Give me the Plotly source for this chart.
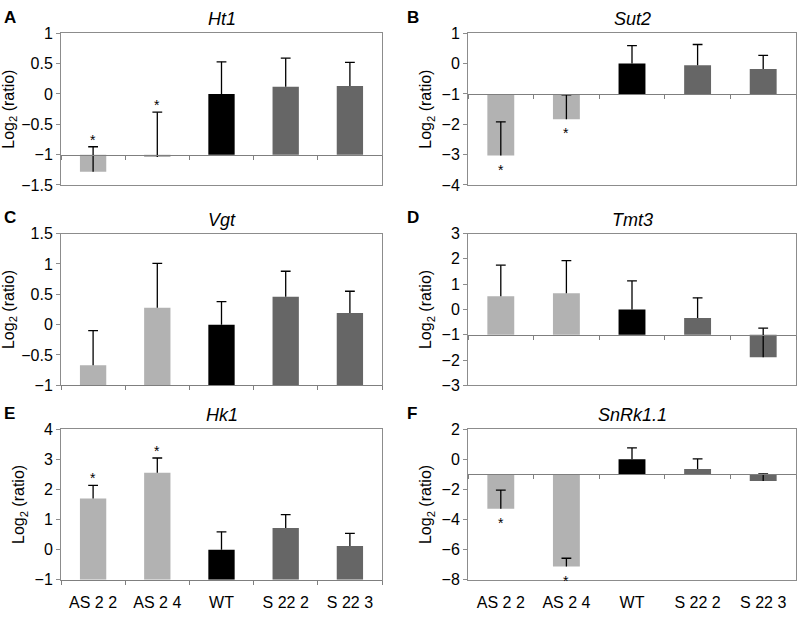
import plotly.graph_objects as go

W, H = 797, 617
FONT = "Arial, Liberation Sans, sans-serif"
FRAME = "#8c8c8c"
AXIS_LINE = "#7f7f7f"

GROUPS = ["AS 2 2", "AS 2 4", "WT", "S 22 2", "S 22 3"]
BAR_COLORS = ["#b2b2b2", "#b2b2b2", "#000000", "#666666", "#666666"]
BASE = -1  # bars grow from the -1 line (Excel axis crossing)

GENES = ["Ht1", "Sut2", "Vgt", "Tmt3", "Hk1", "SnRk1.1"]
LETTERS = ["A", "B", "C", "D", "E", "F"]

# log2 ratios
ht1_mean = [-1.28, -1.04, 0.0, 0.12, 0.13]
ht1_err = [0.41, 0.74, 0.53, 0.47, 0.39]
sut2_mean = [-3.03, -1.83, 0.0, -0.05, -0.18]
sut2_err = [1.11, 0.80, 0.59, 0.68, 0.45]
vgt_mean = [-0.67, 0.28, 0.0, 0.46, 0.19]
vgt_err = [0.57, 0.73, 0.38, 0.42, 0.36]
tmt3_mean = [0.52, 0.64, 0.0, -0.34, -1.89]
tmt3_err = [1.23, 1.29, 1.13, 0.80, 1.15]
hk1_mean = [1.70, 2.55, 0.0, 0.72, 0.12]
hk1_err = [0.43, 0.49, 0.59, 0.44, 0.42]
snrk_mean = [-3.28, -7.12, 0.0, -0.65, -1.45]
snrk_err = [1.23, 0.55, 0.75, 0.67, 0.48]

MEANS = [ht1_mean, sut2_mean, vgt_mean, tmt3_mean, hk1_mean, snrk_mean]
ERRS = [ht1_err, sut2_err, vgt_err, tmt3_err, hk1_err, snrk_err]

# significance stars: flag per group, and whether the star sits above the cap or below the bar
SIG = [
    [1, 1, 0, 0, 0],
    [1, 1, 0, 0, 0],
    [0, 0, 0, 0, 0],
    [0, 0, 0, 0, 0],
    [1, 1, 0, 0, 0],
    [1, 1, 0, 0, 0],
]
STAR_SIDE = ["above", "below", "above", "above", "above", "below"]

Y_RANGES = [(-1.5, 1), (-4, 1), (-1, 1.5), (-3, 3), (-1, 4), (-8, 2)]
Y_DTICKS = [0.5, 1, 0.5, 1, 1, 2]

# plot-area boxes in pixels (left, right) / (top, bottom)
COLS_PX = [(61, 382), (468, 796)]
ROWS_PX = [(26, 182), (232, 388), (433, 588)]


def px_x(p):
    return p / W


def px_y(p):
    return 1 - p / H


fig = go.Figure()
layout = {}
annotations = []

for i, gene in enumerate(GENES):
    r, c = divmod(i, 2)
    n = i + 1
    xs = "" if n == 1 else str(n)
    xl, xr = COLS_PX[c]
    yt, yb = ROWS_PX[r]
    xdom = [px_x(xl), px_x(xr)]
    ydom = [px_y(yb), px_y(yt)]
    ymin, ymax = Y_RANGES[i]
    mean, err = MEANS[i], ERRS[i]
    caps = [m + e for m, e in zip(mean, err)]

    fig.add_trace(
        go.Bar(
            x=GROUPS,
            y=[v - BASE for v in mean],
            base=BASE,
            width=0.41,
            marker=dict(color=BAR_COLORS, line=dict(width=0)),
            error_y=dict(
                type="data",
                symmetric=False,
                array=err,
                arrayminus=[0] * len(err),
                color="#000000",
                thickness=1.3,
                width=0,
            ),
            customdata=mean,
            hovertemplate="%{x}: %{customdata:.2f}<extra>" + gene + "</extra>",
            xaxis="x" + xs,
            yaxis="y" + xs,
            showlegend=False,
        )
    )
    # one-sided caps on top of the whiskers
    fig.add_trace(
        go.Scatter(
            x=GROUPS,
            y=caps,
            mode="markers",
            marker=dict(symbol="line-ew", size=7, line=dict(width=1.3, color="#000000")),
            hoverinfo="skip",
            xaxis="x" + xs,
            yaxis="y" + xs,
            showlegend=False,
        )
    )

    layout["xaxis" + xs] = dict(
        domain=xdom,
        anchor="y" + xs,
        type="category",
        range=[-0.5, len(GROUPS) - 0.5],
        showline=True,
        mirror=True,
        linecolor=FRAME,
        linewidth=1,
        ticks="",
        showgrid=False,
        showticklabels=(r == 2),
        tickfont=dict(family=FONT, size=16, color="#000000"),
        ticklabelstandoff=8,
    )
    layout["yaxis" + xs] = dict(
        domain=ydom,
        anchor="x" + xs,
        range=[ymin, ymax],
        dtick=Y_DTICKS[i],
        tick0=0,
        showline=True,
        mirror=True,
        linecolor=FRAME,
        linewidth=1,
        ticks="outside",
        ticklen=4,
        tickcolor=FRAME,
        showgrid=False,
        zeroline=False,
        tickfont=dict(family=FONT, size=16, color="#000000"),
        title=dict(
            text="Log<sub>2</sub> (ratio)",
            font=dict(family=FONT, size=16, color="#000000"),
            standoff=5,
        ),
    )

    # category axis crossing at y = BASE, with tick marks between categories
    k = str(n + 6)
    pos = ydom[0] + (BASE - ymin) / (ymax - ymin) * (ydom[1] - ydom[0])
    layout["xaxis" + k] = dict(
        overlaying="x" + xs,
        anchor="free",
        position=pos,
        range=[-0.5, len(GROUPS) - 0.5],
        tickmode="array",
        tickvals=[j - 0.5 for j in range(len(GROUPS) + 1)],
        ticks="outside",
        ticklen=4,
        tickcolor=AXIS_LINE,
        showline=True,
        linecolor=AXIS_LINE,
        linewidth=1,
        showticklabels=False,
        showgrid=False,
        zeroline=False,
    )
    # empty trace so the crossing axis gets drawn
    fig.add_trace(go.Scatter(x=[], y=[], xaxis="x" + k, yaxis="y" + xs,
                             hoverinfo="skip", showlegend=False))

    # gene title and panel letter
    annotations.append(dict(
        text="<i>" + gene + "</i>", xref="paper", yref="paper",
        x=(xdom[0] + xdom[1]) / 2, y=ydom[1], yshift=14,
        xanchor="center", yanchor="middle", showarrow=False,
        font=dict(family=FONT, size=18, color="#000000"),
    ))
    annotations.append(dict(
        text="<b>" + LETTERS[i] + "</b>", xref="paper", yref="paper",
        x=px_x(2 + c * 403), y=ydom[1], yshift=16,
        xanchor="left", yanchor="middle", showarrow=False,
        font=dict(family=FONT, size=17, color="#000000"),
    ))

    # significance stars
    for j, flag in enumerate(SIG[i]):
        if not flag:
            continue
        if STAR_SIDE[i] == "above":
            y_at, shift = caps[j], 7
        else:
            y_at, shift = mean[j], -14
        annotations.append(dict(
            text="*", xref="x" + xs, yref="y" + xs, x=GROUPS[j], y=y_at,
            yshift=shift, showarrow=False, yanchor="middle",
            font=dict(family=FONT, size=14, color="#000000"),
        ))

fig.update_layout(
    **layout,
    annotations=annotations,
    width=W,
    height=H,
    margin=dict(l=0, r=0, t=0, b=0),
    paper_bgcolor="white",
    plot_bgcolor="white",
    bargap=0.6,
    font=dict(family=FONT, color="#000000"),
)

# drop the browser's default body margin so the figure sits at the page origin
fig.write_html(
    "out.html",
    config={"displayModeBar": False},
    post_script="document.body.style.margin = '0';",
)
